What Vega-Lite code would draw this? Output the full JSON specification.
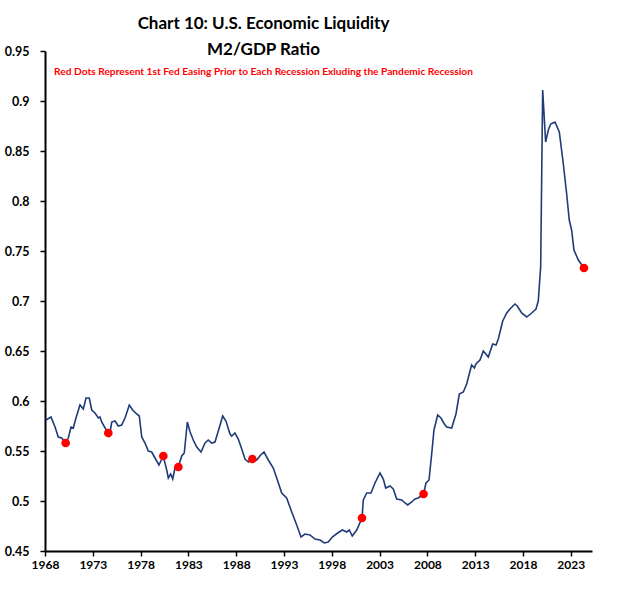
{
  "$schema": "https://vega.github.io/schema/vega-lite/v6.json",
  "width": 547,
  "height": 500,
  "autosize": {"type": "none"},
  "padding": {"left": 45, "top": 51, "right": 28, "bottom": 61},
  "background": "white",
  "config": {"view": {"stroke": null}, "font": "Lato"},
  "title": {
    "text": ["Chart 10: U.S. Economic Liquidity", "M2/GDP Ratio"],
    "subtitle": "Red Dots Represent 1st Fed Easing Prior to Each Recession Exluding the Pandemic Recession",
    "font": "Lato",
    "fontSize": 17,
    "fontWeight": "bold",
    "color": "black",
    "lineHeight": 26,
    "subtitleFont": "Lato",
    "subtitleFontSize": 10.2,
    "subtitleFontWeight": "bold",
    "subtitleColor": "#ff0000",
    "subtitlePadding": 8,
    "anchor": "middle",
    "dx": -55,
    "offset": -33
  },
  "datasets": {
    "m2": [
      {"year": 1968.10, "ratio": 0.581}, {"year": 1968.63, "ratio": 0.584}, {"year": 1969.05, "ratio": 0.574},
      {"year": 1969.39, "ratio": 0.564}, {"year": 1969.75, "ratio": 0.563}, {"year": 1970.17, "ratio": 0.558},
      {"year": 1970.44, "ratio": 0.563}, {"year": 1970.72, "ratio": 0.574}, {"year": 1970.96, "ratio": 0.573},
      {"year": 1971.24, "ratio": 0.583}, {"year": 1971.66, "ratio": 0.596}, {"year": 1972.01, "ratio": 0.592},
      {"year": 1972.29, "ratio": 0.603}, {"year": 1972.63, "ratio": 0.603}, {"year": 1972.89, "ratio": 0.591},
      {"year": 1973.23, "ratio": 0.588}, {"year": 1973.58, "ratio": 0.583}, {"year": 1973.75, "ratio": 0.584},
      {"year": 1973.93, "ratio": 0.579}, {"year": 1974.17, "ratio": 0.575}, {"year": 1974.62, "ratio": 0.568},
      {"year": 1974.73, "ratio": 0.564}, {"year": 1974.98, "ratio": 0.579}, {"year": 1975.32, "ratio": 0.580},
      {"year": 1975.67, "ratio": 0.575}, {"year": 1976.02, "ratio": 0.576}, {"year": 1976.37, "ratio": 0.583},
      {"year": 1976.82, "ratio": 0.596}, {"year": 1977.17, "ratio": 0.591}, {"year": 1977.59, "ratio": 0.587},
      {"year": 1977.86, "ratio": 0.585}, {"year": 1978.12, "ratio": 0.564}, {"year": 1978.46, "ratio": 0.558},
      {"year": 1978.81, "ratio": 0.550}, {"year": 1979.16, "ratio": 0.549}, {"year": 1979.51, "ratio": 0.543},
      {"year": 1979.92, "ratio": 0.536}, {"year": 1980.37, "ratio": 0.545}, {"year": 1980.73, "ratio": 0.531},
      {"year": 1980.90, "ratio": 0.523}, {"year": 1981.15, "ratio": 0.527}, {"year": 1981.36, "ratio": 0.522},
      {"year": 1981.60, "ratio": 0.533}, {"year": 1981.94, "ratio": 0.534}, {"year": 1982.30, "ratio": 0.545},
      {"year": 1982.57, "ratio": 0.548}, {"year": 1982.89, "ratio": 0.579}, {"year": 1983.18, "ratio": 0.569},
      {"year": 1983.51, "ratio": 0.561}, {"year": 1983.87, "ratio": 0.554}, {"year": 1984.32, "ratio": 0.549},
      {"year": 1984.74, "ratio": 0.558}, {"year": 1985.08, "ratio": 0.561}, {"year": 1985.44, "ratio": 0.558},
      {"year": 1985.78, "ratio": 0.559}, {"year": 1986.13, "ratio": 0.570}, {"year": 1986.59, "ratio": 0.585},
      {"year": 1986.93, "ratio": 0.580}, {"year": 1987.35, "ratio": 0.567}, {"year": 1987.53, "ratio": 0.565},
      {"year": 1987.87, "ratio": 0.568}, {"year": 1988.22, "ratio": 0.562}, {"year": 1988.58, "ratio": 0.552},
      {"year": 1988.92, "ratio": 0.542}, {"year": 1989.27, "ratio": 0.539}, {"year": 1989.68, "ratio": 0.542},
      {"year": 1990.14, "ratio": 0.541}, {"year": 1990.56, "ratio": 0.546}, {"year": 1990.91, "ratio": 0.549},
      {"year": 1991.36, "ratio": 0.541}, {"year": 1991.88, "ratio": 0.533}, {"year": 1992.24, "ratio": 0.523},
      {"year": 1992.76, "ratio": 0.508}, {"year": 1993.28, "ratio": 0.503}, {"year": 1993.81, "ratio": 0.489},
      {"year": 1994.33, "ratio": 0.476}, {"year": 1994.78, "ratio": 0.464}, {"year": 1995.20, "ratio": 0.467},
      {"year": 1995.72, "ratio": 0.466}, {"year": 1996.24, "ratio": 0.462}, {"year": 1996.77, "ratio": 0.461},
      {"year": 1997.22, "ratio": 0.458}, {"year": 1997.63, "ratio": 0.459}, {"year": 1998.05, "ratio": 0.464},
      {"year": 1998.62, "ratio": 0.468}, {"year": 1999.10, "ratio": 0.471}, {"year": 1999.56, "ratio": 0.469},
      {"year": 1999.83, "ratio": 0.471}, {"year": 2000.14, "ratio": 0.465}, {"year": 2000.61, "ratio": 0.471},
      {"year": 2001.16, "ratio": 0.483}, {"year": 2001.30, "ratio": 0.501}, {"year": 2001.65, "ratio": 0.508},
      {"year": 2002.10, "ratio": 0.508}, {"year": 2002.52, "ratio": 0.518}, {"year": 2003.04, "ratio": 0.528},
      {"year": 2003.39, "ratio": 0.522}, {"year": 2003.64, "ratio": 0.513}, {"year": 2004.09, "ratio": 0.515},
      {"year": 2004.43, "ratio": 0.512}, {"year": 2004.79, "ratio": 0.502}, {"year": 2005.31, "ratio": 0.501},
      {"year": 2005.66, "ratio": 0.498}, {"year": 2005.94, "ratio": 0.496}, {"year": 2006.36, "ratio": 0.499},
      {"year": 2006.70, "ratio": 0.502}, {"year": 2007.05, "ratio": 0.503}, {"year": 2007.61, "ratio": 0.507},
      {"year": 2007.85, "ratio": 0.518}, {"year": 2008.17, "ratio": 0.521}, {"year": 2008.45, "ratio": 0.547},
      {"year": 2008.69, "ratio": 0.571}, {"year": 2009.08, "ratio": 0.586}, {"year": 2009.42, "ratio": 0.583},
      {"year": 2009.77, "ratio": 0.577}, {"year": 2010.02, "ratio": 0.574}, {"year": 2010.54, "ratio": 0.573},
      {"year": 2010.99, "ratio": 0.587}, {"year": 2011.34, "ratio": 0.607}, {"year": 2011.76, "ratio": 0.609},
      {"year": 2012.11, "ratio": 0.617}, {"year": 2012.38, "ratio": 0.627}, {"year": 2012.63, "ratio": 0.636},
      {"year": 2012.91, "ratio": 0.633}, {"year": 2013.08, "ratio": 0.637}, {"year": 2013.50, "ratio": 0.641},
      {"year": 2013.85, "ratio": 0.650}, {"year": 2014.03, "ratio": 0.648}, {"year": 2014.37, "ratio": 0.644},
      {"year": 2014.83, "ratio": 0.657}, {"year": 2015.18, "ratio": 0.656}, {"year": 2015.42, "ratio": 0.662},
      {"year": 2015.88, "ratio": 0.680}, {"year": 2016.30, "ratio": 0.688}, {"year": 2016.64, "ratio": 0.692},
      {"year": 2017.16, "ratio": 0.697}, {"year": 2017.41, "ratio": 0.695}, {"year": 2017.86, "ratio": 0.688},
      {"year": 2018.39, "ratio": 0.684}, {"year": 2018.91, "ratio": 0.688}, {"year": 2019.36, "ratio": 0.692},
      {"year": 2019.60, "ratio": 0.700}, {"year": 2019.85, "ratio": 0.734}, {"year": 2020.06, "ratio": 0.911},
      {"year": 2020.37, "ratio": 0.859}, {"year": 2020.65, "ratio": 0.871}, {"year": 2020.90, "ratio": 0.877},
      {"year": 2021.35, "ratio": 0.879}, {"year": 2021.80, "ratio": 0.869}, {"year": 2022.22, "ratio": 0.837},
      {"year": 2022.57, "ratio": 0.807}, {"year": 2022.84, "ratio": 0.781}, {"year": 2023.09, "ratio": 0.771},
      {"year": 2023.33, "ratio": 0.751}, {"year": 2023.79, "ratio": 0.741}, {"year": 2024.38, "ratio": 0.733}
    ],
    "easing": [
      {"year": 1970.16, "ratio": 0.558},
      {"year": 1974.62, "ratio": 0.568},
      {"year": 1980.38, "ratio": 0.545},
      {"year": 1981.95, "ratio": 0.534},
      {"year": 1989.69, "ratio": 0.542},
      {"year": 2001.16, "ratio": 0.483},
      {"year": 2007.60, "ratio": 0.507},
      {"year": 2024.38, "ratio": 0.733}
    ]
  },
  "encoding": {
    "x": {
      "field": "year",
      "type": "quantitative",
      "scale": {"domain": [1968, 2025.22], "nice": false, "zero": false},
      "axis": {
        "title": null,
        "values": [1968, 1973, 1978, 1983, 1988, 1993, 1998, 2003, 2008, 2013, 2018, 2023],
        "format": "d",
        "grid": false,
        "domainColor": "black",
        "domainWidth": 2,
        "tickColor": "black",
        "tickWidth": 1.5,
        "tickSize": 5,
        "labelFont": "Lato",
        "labelFontSize": 12,
        "labelFontWeight": "bold",
        "labelColor": "black",
        "labelPadding": 3,
        "labelFlush": false,
        "labelOverlap": false
      }
    },
    "y": {
      "field": "ratio",
      "type": "quantitative",
      "scale": {"domain": [0.45, 0.95], "nice": false, "zero": false},
      "axis": {
        "title": null,
        "values": [0.45, 0.5, 0.55, 0.6, 0.65, 0.7, 0.75, 0.8, 0.85, 0.9, 0.95],
        "format": ".2~f",
        "grid": false,
        "domainColor": "black",
        "domainWidth": 2,
        "tickColor": "black",
        "tickWidth": 1.5,
        "tickSize": 5,
        "labelFont": "Lato",
        "labelFontSize": 12.5,
        "labelFontWeight": "bold",
        "labelColor": "black",
        "labelPadding": 11,
        "labelFlush": false,
        "labelOverlap": false
      }
    }
  },
  "layer": [
    {
      "data": {"name": "m2"},
      "mark": {"type": "line", "color": "#1f3c78", "strokeWidth": 1.6, "interpolate": "linear"}
    },
    {
      "data": {"name": "easing"},
      "mark": {"type": "circle", "color": "#ff0000", "opacity": 1, "size": 75}
    }
  ]
}
